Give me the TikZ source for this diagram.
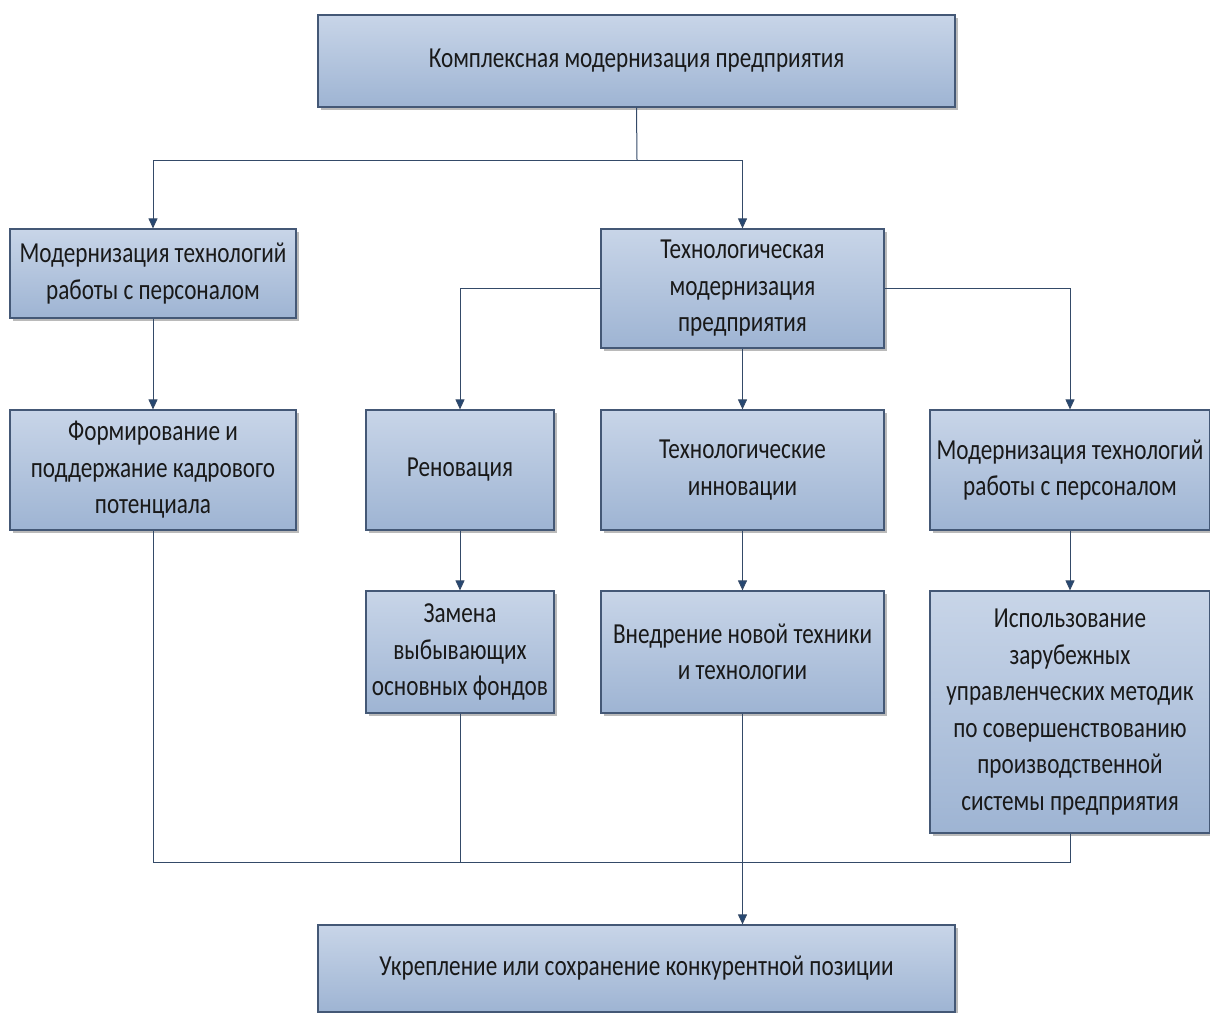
\documentclass[tikz,border=0pt]{standalone}
\usepackage{fontspec}
\setmainfont{Carlito}[FakeStretch=0.8]
\usetikzlibrary{arrows.meta,shadows}
\definecolor{boxtop}{RGB}{200,213,232}
\definecolor{boxbot}{RGB}{158,180,211}
\definecolor{boxline}{RGB}{68,88,118}
\definecolor{conn}{RGB}{52,74,104}
\definecolor{tipc}{RGB}{38,72,115}
\tikzset{
  x=1pt,y=-1pt,
  blk/.style={draw=boxline,line width=1.2pt,top color=boxtop,bottom color=boxbot,
    drop shadow={shadow xshift=3pt,shadow yshift=-3pt,fill=black!45,opacity=0.6},
    align=center,inner sep=0pt,font=\fontsize{29}{36.5}\selectfont,text=black!90},
  ln/.style={draw=conn,line width=1pt},
  arr/.style={ln,-{Triangle[length=10pt,width=9pt,fill=tipc]}}
}
\newcommand{\blkbox}[6]{\node[blk,minimum width=#4-#2,minimum height=#5-#3] (#1) at ({(#2+#4)/2},{(#3+#5)/2}) {#6};}
\begin{document}
\begin{tikzpicture}
\useasboundingbox (0,0) rectangle (1210,1012);
\blkbox{top}{318}{15}{955}{107}{Комплексная модернизация предприятия}
\blkbox{a}{10}{229}{296}{318}{Модернизация технологий\\работы с персоналом}
\blkbox{b}{601}{229}{884}{348}{Технологическая\\модернизация\\предприятия}
\blkbox{c}{10}{410}{296}{530}{Формирование и\\поддержание кадрового\\потенциала}
\blkbox{ren}{366}{410}{554}{530}{Реновация}
\blkbox{inn}{601}{410}{884}{530}{Технологические\\инновации}
\blkbox{rm}{930}{410}{1210}{530}{Модернизация технологий\\работы с персоналом}
\blkbox{zam}{366}{591}{554}{713}{Замена\\выбывающих\\основных фондов}
\blkbox{vn}{601}{591}{884}{713}{Внедрение новой техники\\и технологии}
\blkbox{isp}{930}{591}{1210}{833}{Использование\\зарубежных\\управленческих методик\\по совершенствованию\\производственной\\системы предприятия}
\blkbox{bot}{318}{925}{955}{1012}{Укрепление или сохранение конкурентной позиции}
\coordinate (j1) at (637,160);
\coordinate (j2) at (742,862);
\draw[ln] (top.south) -- (j1);
\draw[arr] (j1) -| (a.north);
\draw[arr] (j1) -| (b.north);
\draw[arr] (b.west) -| (ren.north);
\draw[arr] (b.east) -| (rm.north);
\draw[arr] (b.south) -- (inn.north);
\draw[arr] (a.south) -- (c.north);
\draw[arr] (ren.south) -- (zam.north);
\draw[arr] (inn.south) -- (vn.north);
\draw[arr] (rm.south) -- (isp.north);
\draw[ln] (c.south) |- (j2);
\draw[ln] (zam.south) |- (j2);
\draw[ln] (isp.south) |- (j2);
\draw[arr] (vn.south) -- (vn.south |- bot.north);
\end{tikzpicture}
\end{document}
